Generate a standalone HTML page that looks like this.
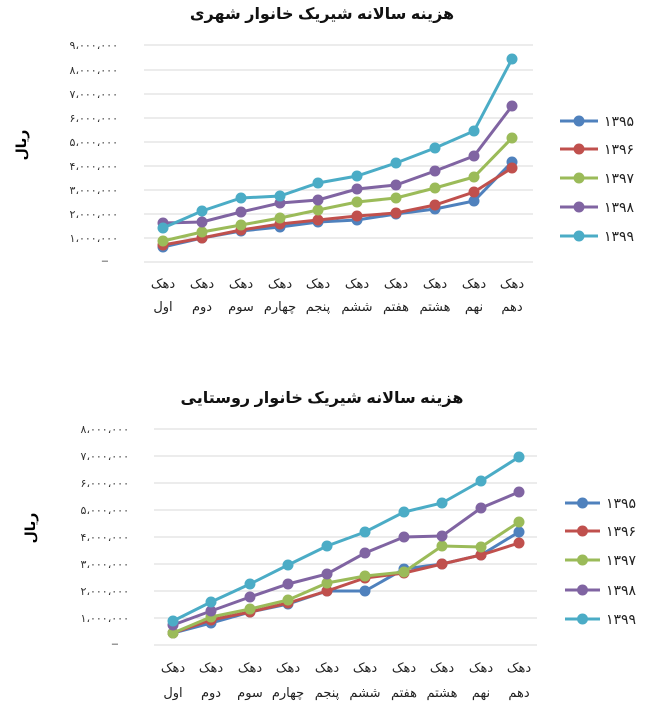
<!DOCTYPE html>
<html><head><meta charset="utf-8"><style>
html,body{margin:0;padding:0;background:#fff;}
svg{display:block;font-family:"Liberation Sans","DejaVu Sans","Noto Sans CJK SC",sans-serif;}
.g{stroke:#d9d9d9;stroke-width:1;}
.yl{font-size:11px;fill:#333;text-anchor:end;}
.xl{font-size:13px;fill:#222;text-anchor:middle;}
.t{font-size:16px;font-weight:bold;fill:#111;text-anchor:middle;}
.lg{font-size:14px;fill:#222;}
</style></head><body>
<svg width="652" height="714" viewBox="0 0 652 714">
<text class="t" x="322" y="19" direction="rtl">هزینه سالانه شیریک خانوار شهری</text>
<g id="top">
<line class="g" x1="144" x2="533" y1="45" y2="45"/><line class="g" x1="144" x2="533" y1="70" y2="70"/>
<line class="g" x1="144" x2="533" y1="94" y2="94"/><line class="g" x1="144" x2="533" y1="118" y2="118"/>
<line class="g" x1="144" x2="533" y1="142" y2="142"/><line class="g" x1="144" x2="533" y1="166" y2="166"/>
<line class="g" x1="144" x2="533" y1="190" y2="190"/><line class="g" x1="144" x2="533" y1="214" y2="214"/>
<line class="g" x1="144" x2="533" y1="238" y2="238"/><line class="g" x1="144" x2="533" y1="262" y2="262"/>
<text class="yl" x="118" y="49">۹،۰۰۰،۰۰۰</text><text class="yl" x="118" y="74">۸،۰۰۰،۰۰۰</text>
<text class="yl" x="118" y="98">۷،۰۰۰،۰۰۰</text><text class="yl" x="118" y="122">۶،۰۰۰،۰۰۰</text>
<text class="yl" x="118" y="146">۵،۰۰۰،۰۰۰</text><text class="yl" x="118" y="170">۴،۰۰۰،۰۰۰</text>
<text class="yl" x="118" y="194">۳،۰۰۰،۰۰۰</text><text class="yl" x="118" y="218">۲،۰۰۰،۰۰۰</text>
<text class="yl" x="118" y="242">۱،۰۰۰،۰۰۰</text><text class="yl" x="108" y="264">–</text>
<text x="26" y="145" font-size="14" font-weight="bold" text-anchor="middle" transform="rotate(-90 26 145)" direction="rtl">ریال</text>
</g>
<g class="xl">
<text x="163" y="288">دهک</text><text x="163" y="311">اول</text>
<text x="202" y="288">دهک</text><text x="202" y="311">دوم</text>
<text x="241" y="288">دهک</text><text x="241" y="311">سوم</text>
<text x="280" y="288">دهک</text><text x="280" y="311">چهارم</text>
<text x="318" y="288">دهک</text><text x="318" y="311">پنجم</text>
<text x="357" y="288">دهک</text><text x="357" y="311">ششم</text>
<text x="396" y="288">دهک</text><text x="396" y="311">هفتم</text>
<text x="435" y="288">دهک</text><text x="435" y="311">هشتم</text>
<text x="474" y="288">دهک</text><text x="474" y="311">نهم</text>
<text x="512" y="288">دهک</text><text x="512" y="311">دهم</text>
</g>

<text class="t" x="322" y="403" direction="rtl">هزینه سالانه شیریک خانوار روستایی</text>
<g>
<line class="g" x1="154" x2="537" y1="429" y2="429"/><line class="g" x1="154" x2="537" y1="456" y2="456"/>
<line class="g" x1="154" x2="537" y1="483" y2="483"/><line class="g" x1="154" x2="537" y1="510" y2="510"/>
<line class="g" x1="154" x2="537" y1="537" y2="537"/><line class="g" x1="154" x2="537" y1="564" y2="564"/>
<line class="g" x1="154" x2="537" y1="591" y2="591"/><line class="g" x1="154" x2="537" y1="618" y2="618"/>
<line class="g" x1="154" x2="537" y1="645" y2="645"/>
<text class="yl" x="129" y="433">۸،۰۰۰،۰۰۰</text><text class="yl" x="129" y="460">۷،۰۰۰،۰۰۰</text>
<text class="yl" x="129" y="487">۶،۰۰۰،۰۰۰</text><text class="yl" x="129" y="514">۵،۰۰۰،۰۰۰</text>
<text class="yl" x="129" y="541">۴،۰۰۰،۰۰۰</text><text class="yl" x="129" y="568">۳،۰۰۰،۰۰۰</text>
<text class="yl" x="129" y="595">۲،۰۰۰،۰۰۰</text><text class="yl" x="129" y="622">۱،۰۰۰،۰۰۰</text>
<text class="yl" x="118" y="647">–</text>
<text x="35" y="528" font-size="14" font-weight="bold" text-anchor="middle" transform="rotate(-90 35 528)" direction="rtl">ریال</text>
</g>
<g class="xl">
<text x="173" y="672">دهک</text><text x="173" y="697">اول</text>
<text x="211" y="672">دهک</text><text x="211" y="697">دوم</text>
<text x="250" y="672">دهک</text><text x="250" y="697">سوم</text>
<text x="288" y="672">دهک</text><text x="288" y="697">چهارم</text>
<text x="327" y="672">دهک</text><text x="327" y="697">پنجم</text>
<text x="365" y="672">دهک</text><text x="365" y="697">ششم</text>
<text x="404" y="672">دهک</text><text x="404" y="697">هفتم</text>
<text x="442" y="672">دهک</text><text x="442" y="697">هشتم</text>
<text x="481" y="672">دهک</text><text x="481" y="697">نهم</text>
<text x="519" y="672">دهک</text><text x="519" y="697">دهم</text>
</g>
<g id="series"></g>
</svg>
<script>
const C=['#4f81bd','#c0504d','#9bbb59','#8064a2','#4bacc6'];
const NS='http://www.w3.org/2000/svg';
const g=document.getElementById('series');
function draw(xs,data){
 data.forEach((ys,i)=>{
  const p=document.createElementNS(NS,'polyline');
  p.setAttribute('points',xs.map((x,j)=>x+','+ys[j]).join(' '));
  p.setAttribute('fill','none');p.setAttribute('stroke',C[i]);p.setAttribute('stroke-width','3');
  g.appendChild(p);
  xs.forEach((x,j)=>{const c=document.createElementNS(NS,'circle');c.setAttribute('cx',x);c.setAttribute('cy',ys[j]);c.setAttribute('r','5.5');c.setAttribute('fill',C[i]);g.appendChild(c);});
 });
}
draw([163,202,241,280,318,357,396,435,474,512],[
[247,238,231,227,222,220,214,209,201,162],
[245,238,230,224,220,216,213,205,192,168],
[241,232,225,218,210,202,198,188,177,138],
[223,222,212,203,200,189,185,171,156,106],
[228,211,198,196,183,176,163,148,131,59]]);
draw([173,211,250,288,327,365,404,442,481,519],[
[633,623,612,604,591,591,569,564,555,532],
[633,620,612,603,591,578,573,564,555,543],
[633,617,609,600,583,576,572,546,547,522],
[625,611,597,584,574,553,537,536,508,492],
[621,602,584,565,546,532,512,503,481,457]]);
function legend(x1,x2,ys){
 const names=['۱۳۹۵','۱۳۹۶','۱۳۹۷','۱۳۹۸','۱۳۹۹'];
 ys.forEach((y,i)=>{
  const l=document.createElementNS(NS,'line');
  l.setAttribute('x1',x1);l.setAttribute('x2',x2);l.setAttribute('y1',y);l.setAttribute('y2',y);
  l.setAttribute('stroke',C[i]);l.setAttribute('stroke-width','3');g.appendChild(l);
  const c=document.createElementNS(NS,'circle');c.setAttribute('cx',(x1+x2)/2);c.setAttribute('cy',y);c.setAttribute('r','5.5');c.setAttribute('fill',C[i]);g.appendChild(c);
  const t=document.createElementNS(NS,'text');t.setAttribute('x',x2+6);t.setAttribute('y',y+5);t.setAttribute('class','lg');t.textContent=names[i];g.appendChild(t);
 });
}
legend(560,598,[121,149,178,207,236]);
legend(565,600,[503,531,560,590,619]);
</script>
</body></html>
